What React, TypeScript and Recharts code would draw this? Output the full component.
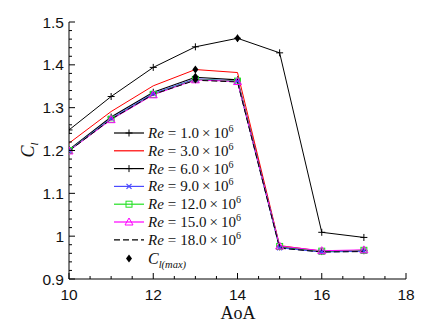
import React from "react";
import { ComposedChart, Line, XAxis, YAxis } from "recharts";

const aoa = [10, 11, 12, 13, 14, 15, 16, 17];
const re1 = [1.248, 1.326, 1.394, 1.442, 1.462, 1.428, 1.009, 0.997];
const re3 = [1.217, 1.291, 1.351, 1.389, 1.382, 0.978, 0.965, 0.967];
const re6 = [1.202, 1.278, 1.336, 1.371, 1.365, 0.975, 0.964, 0.966];
const re9 = [1.2, 1.275, 1.333, 1.367, 1.362, 0.973, 0.963, 0.965];
const re12 = [1.2, 1.273, 1.331, 1.366, 1.362, 0.976, 0.965, 0.967];
const re15 = [1.199, 1.272, 1.33, 1.365, 1.361, 0.977, 0.966, 0.968];
const re18 = [1.199, 1.273, 1.331, 1.364, 1.36, 0.972, 0.963, 0.964];

const clmaxAoa = [14, 13, 13, 13];
const clmaxVal = [1.462, 1.389, 1.372, 1.366];

const xMajorTicks = [10, 12, 14, 16, 18];
const yMajorTicks = [0.9, 1, 1.1, 1.2, 1.3, 1.4, 1.5];
const legendLabels = ["1.0", "3.0", "6.0", "9.0", "12.0", "15.0", "18.0"];

const table = aoa.map((a, i) => ({
  aoa: a,
  re1: re1[i],
  re3: re3[i],
  re6: re6[i],
  re9: re9[i],
  re12: re12[i],
  re15: re15[i],
  re18: re18[i],
}));
const clmaxTable = clmaxAoa.map((a, i) => ({ aoa: a, cl: clmaxVal[i] }));

const xAllTicks = Array.from({ length: 17 }, (_, i) => 10 + i * 0.5);
const yAllTicks = Array.from({ length: 31 }, (_, i) => Math.round((0.9 + i * 0.02) * 100) / 100);

const BLUE = "#4a4aff";
const GREEN = "#22e022";
const MAGENTA = "#ff00ff";

const Plus = ({ cx, cy, color = "#000" }: any) =>
  cx == null || cy == null ? null : (
    <g>
      <line x1={cx - 3.5} x2={cx + 3.5} y1={cy} y2={cy} stroke={color} strokeWidth={1} />
      <line x1={cx} x2={cx} y1={cy - 3.5} y2={cy + 3.5} stroke={color} strokeWidth={1} />
    </g>
  );
const Cross = ({ cx, cy, color }: any) =>
  cx == null || cy == null ? null : (
    <g>
      <line x1={cx - 2.5} x2={cx + 2.5} y1={cy - 2.5} y2={cy + 2.5} stroke={color} strokeWidth={1.2} />
      <line x1={cx - 2.5} x2={cx + 2.5} y1={cy + 2.5} y2={cy - 2.5} stroke={color} strokeWidth={1.2} />
    </g>
  );
const Square = ({ cx, cy, color }: any) =>
  cx == null || cy == null ? null : (
    <rect x={cx - 3} y={cy - 3} width={6} height={6} fill="none" stroke={color} strokeWidth={1} />
  );
const Triangle = ({ cx, cy, color }: any) =>
  cx == null || cy == null ? null : (
    <polygon
      points={`${cx},${cy - 4} ${cx - 4},${cy + 3} ${cx + 4},${cy + 3}`}
      fill="none"
      stroke={color}
      strokeWidth={1}
    />
  );
const Diamond = ({ cx, cy }: any) =>
  cx == null || cy == null ? null : (
    <polygon points={`${cx},${cy - 4} ${cx - 3},${cy} ${cx},${cy + 4} ${cx + 3},${cy}`} fill="#000" />
  );

const XTick = ({ x, y, payload }: any) => {
  const v = payload.value;
  const major = xMajorTicks.includes(v);
  return (
    <g>
      <line x1={x} x2={x} y1={y} y2={y - (major ? 6 : 3)} stroke="#000" strokeWidth={1} />
      {major && (
        <text x={x} y={y + 21} textAnchor="middle" fontSize={15.5} fontFamily="'Liberation Sans', Arial, sans-serif" fill="#111">
          {v}
        </text>
      )}
    </g>
  );
};

const YTick = ({ x, y, payload }: any) => {
  const v = payload.value;
  const major = yMajorTicks.some((m) => Math.abs(m - v) < 1e-6);
  return (
    <g>
      <line x1={x} x2={x + (major ? 6 : 3)} y1={y} y2={y} stroke="#000" strokeWidth={1} />
      {major && (
        <text x={x - 5} y={y + 5.5} textAnchor="end" fontSize={15.5} fontFamily="'Liberation Sans', Arial, sans-serif" fill="#111">
          {v}
        </text>
      )}
    </g>
  );
};

const serif = "'Liberation Serif', 'Times New Roman', serif";

const legendItems = [
  { color: "#000", marker: "plus", dash: undefined },
  { color: "#ff0000", marker: "none", dash: undefined },
  { color: "#000", marker: "plus", dash: undefined },
  { color: BLUE, marker: "cross", dash: undefined },
  { color: GREEN, marker: "square", dash: undefined },
  { color: MAGENTA, marker: "triangle", dash: undefined },
  { color: "#000", marker: "none", dash: "6 3" },
];

const renderMarker = (m: string, cx: number, cy: number, color: string) => {
  if (m === "plus") return <Plus cx={cx} cy={cy} color={color} />;
  if (m === "cross") return <Cross cx={cx} cy={cy} color={color} />;
  if (m === "square") return <Square cx={cx} cy={cy} color={color} />;
  if (m === "triangle") return <Triangle cx={cx} cy={cy} color={color} />;
  return null;
};

const LegendOverlay = () => {
  const x0 = 114;
  const x1 = 144;
  const tx = 148;
  const y0 = 133;
  const dy = 17.8;
  return (
    <svg width={431} height={331} style={{ position: "absolute", left: 0, top: 0, pointerEvents: "none" }}>
      {legendItems.map((it, i) => {
        const cy = y0 + i * dy;
        return (
          <g key={i}>
            <line x1={x0} x2={x1} y1={cy} y2={cy} stroke={it.color} strokeWidth={1.2} strokeDasharray={it.dash} />
            {renderMarker(it.marker, (x0 + x1) / 2, cy, it.color)}
            <text x={tx} y={cy + 5} fontSize={15} fontFamily={serif} fill="#111">
              <tspan fontStyle="italic">Re</tspan>
              <tspan dx={4}>=</tspan>
              <tspan dx={4}>{legendLabels[i]}</tspan>
              <tspan dx={3}>×</tspan>
              <tspan dx={3}>10</tspan>
              <tspan fontSize={10} dy={-6}>6</tspan>
            </text>
          </g>
        );
      })}
      <Diamond cx={129} cy={y0 + 7 * dy + 1} />
      <text x={tx} y={y0 + 7 * dy + 6} fontSize={16} fontFamily={serif} fill="#111">
        <tspan fontStyle="italic">C</tspan>
        <tspan fontStyle="italic" fontSize={10.5} dy={4}>l(max)</tspan>
      </text>
    </svg>
  );
};

export default function App() {
  return (
    <div style={{ position: "absolute", left: 0, top: 0, width: 431, height: 331, background: "#fff" }}>
      <ComposedChart width={431} height={331} data={table} margin={{ top: 22, right: 25, bottom: 22, left: 9 }}>
        <XAxis
          dataKey="aoa"
          type="number"
          domain={[10, 18]}
          ticks={xAllTicks}
          interval={0}
          tick={<XTick />}
          tickLine={false}
          tickSize={0}
          tickMargin={0}
          height={30}
          axisLine={{ stroke: "#000", strokeWidth: 1 }}
          allowDataOverflow
        />
        <YAxis
          type="number"
          domain={[0.9, 1.5]}
          ticks={yAllTicks}
          interval={0}
          tick={<YTick />}
          tickLine={false}
          tickSize={0}
          tickMargin={0}
          width={60}
          axisLine={{ stroke: "#000", strokeWidth: 1 }}
          allowDataOverflow
        />
        <Line dataKey="re1" stroke="#000" strokeWidth={1} isAnimationActive={false} dot={(p: any) => <Plus key={p.index} cx={p.cx} cy={p.cy} color="#000" />} />
        <Line dataKey="re3" stroke="#ff0000" strokeWidth={1} isAnimationActive={false} dot={false} />
        <Line dataKey="re6" stroke="#000" strokeWidth={1.2} isAnimationActive={false} dot={(p: any) => <Plus key={p.index} cx={p.cx} cy={p.cy} color="#000" />} />
        <Line dataKey="re9" stroke={BLUE} strokeWidth={1.2} isAnimationActive={false} dot={(p: any) => <Cross key={p.index} cx={p.cx} cy={p.cy} color={BLUE} />} />
        <Line dataKey="re12" stroke={GREEN} strokeWidth={1} isAnimationActive={false} dot={(p: any) => <Square key={p.index} cx={p.cx} cy={p.cy} color={GREEN} />} />
        <Line dataKey="re15" stroke={MAGENTA} strokeWidth={1} isAnimationActive={false} dot={(p: any) => <Triangle key={p.index} cx={p.cx} cy={p.cy} color={MAGENTA} />} />
        <Line dataKey="re18" stroke="#000" strokeWidth={1} strokeDasharray="6 3" isAnimationActive={false} dot={false} />
        <Line data={clmaxTable} dataKey="cl" stroke="none" isAnimationActive={false} dot={(p: any) => <Diamond key={p.index} cx={p.cx} cy={p.cy} />} />
      </ComposedChart>
      <LegendOverlay />
      <svg width={431} height={331} style={{ position: "absolute", left: 0, top: 0, pointerEvents: "none" }}>
        <text x={238} y={319} textAnchor="middle" fontSize={18} fontFamily={serif} fill="#111">
          AoA
        </text>
        <g transform="translate(34,150) rotate(-90)">
          <text x={0} y={0} textAnchor="middle" fontSize={18} fontFamily={serif} fill="#111">
            <tspan fontStyle="italic">C</tspan>
            <tspan fontStyle="italic" fontSize={11} dy={4}>l</tspan>
          </text>
        </g>
      </svg>
    </div>
  );
}
